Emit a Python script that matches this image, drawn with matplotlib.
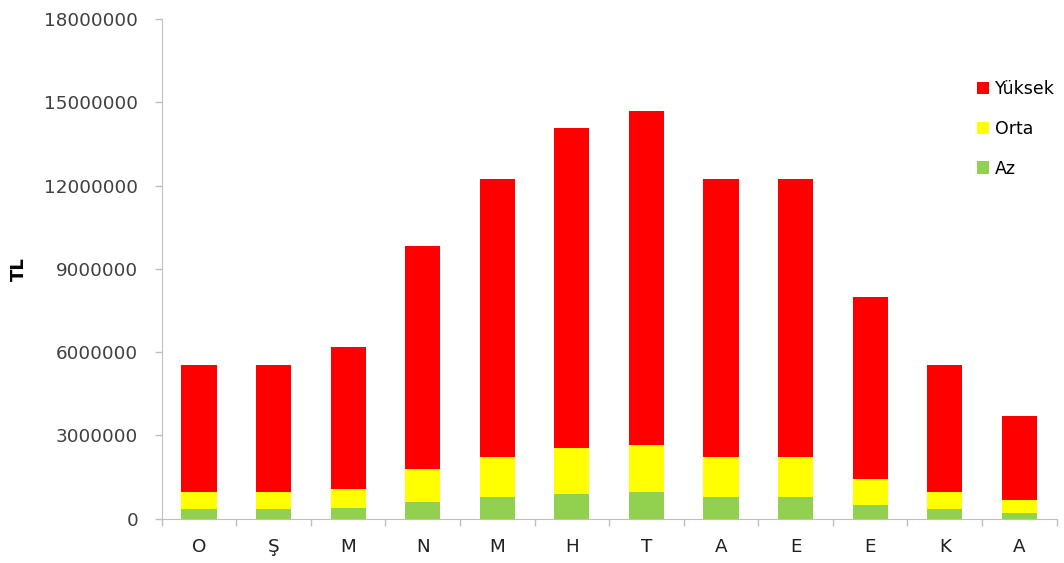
import numpy as np
import matplotlib
matplotlib.use("Agg")
import matplotlib.pyplot as plt
from matplotlib.ticker import FixedLocator

# Monthly values (TL)
months = ["O", "Ş", "M", "N", "M", "H", "T", "A", "E", "E", "K", "A"]
az = [330000, 330000, 380000, 600000, 780000, 890000, 940000, 780000, 780000, 480000, 350000, 190000]
orta = [630000, 630000, 680000, 1170000, 1420000, 1650000, 1700000, 1420000, 1420000, 960000, 620000, 460000]
yuksek = [4580000, 4580000, 5110000, 8040000, 10040000, 11540000, 12060000, 10040000, 10040000, 6530000, 4570000, 3030000]

y_ticks = [0, 3000000, 6000000, 9000000, 12000000, 15000000, 18000000]

fig = plt.figure(figsize=(10.64, 5.63), dpi=100)
ax = fig.add_axes([0.152, 0.079, 0.841, 0.887])

x = np.arange(len(months))
width = 0.47
az = np.array(az)
orta = np.array(orta)
yuksek = np.array(yuksek)

ax.bar(x, az, width, color="#92D050", label="Az")
ax.bar(x, orta, width, bottom=az, color="#FFFF00", label="Orta")
ax.bar(x, yuksek, width, bottom=az + orta, color="#FF0000", label="Yüksek")

ax.set_xlim(-0.5, len(months) - 0.5)
ax.set_ylim(0, 18000000)
ax.set_yticks(y_ticks)
ax.set_yticklabels([str(v) for v in y_ticks], fontsize=13.2, color="#404040")
ax.set_xticks(x)
ax.set_xticklabels(months, fontsize=13.2, color="#202020")
ax.tick_params(axis="x", which="major", length=0, pad=14)
ax.xaxis.set_minor_locator(FixedLocator(np.arange(-0.5, len(months), 1.0)))
ax.tick_params(axis="x", which="minor", length=5, color="#bfbfbf", width=1)
ax.tick_params(axis="y", length=5, color="#bfbfbf", width=1, pad=12)

for side in ["top", "right"]:
    ax.spines[side].set_visible(False)
ax.spines["left"].set_color("#bfbfbf")
ax.spines["bottom"].set_color("#bfbfbf")

ax.set_ylabel("TL", fontsize=13, fontweight="bold")
ax.yaxis.set_label_coords(-0.150, 0.5)

handles, labels = ax.get_legend_handles_labels()
leg = fig.legend(handles[::-1], labels[::-1], loc="upper left", bbox_to_anchor=(0.912, 0.87),
                 frameon=False, fontsize=12.5, handlelength=0.7, handleheight=0.7,
                 handletextpad=0.3, labelspacing=1.25, borderaxespad=0)

fig.savefig("out.png", dpi=100)
